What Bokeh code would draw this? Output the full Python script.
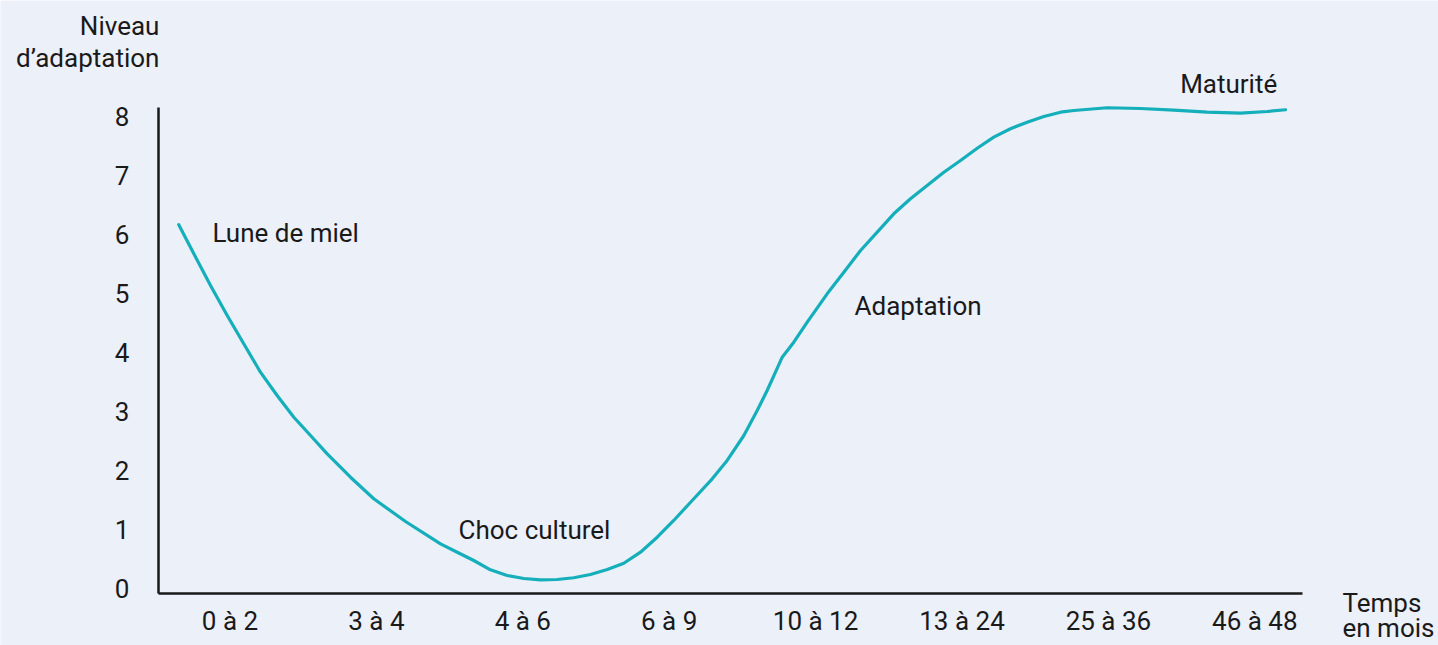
from bokeh.plotting import figure
from bokeh.models import Range1d, FixedTicker, Label
from bokeh.embed import file_html
from bokeh.resources import INLINE

# ---- data ----
categories = ["0 à 2", "3 à 4", "4 à 6", "6 à 9", "10 à 12", "13 à 24", "25 à 36", "46 à 48"]
y_ticks = [0, 1, 2, 3, 4, 5, 6, 7, 8]

curve_x = [-0.350, -0.247, -0.133, -0.019, 0.094, 0.208, 0.322, 0.436, 0.550, 0.664,
           0.823, 0.982, 1.199, 1.438, 1.552, 1.665, 1.779, 1.893, 2.007, 2.121,
           2.235, 2.348, 2.462, 2.577, 2.690, 2.804, 2.918, 3.031, 3.146, 3.294,
           3.396, 3.510, 3.601, 3.669, 3.726, 3.772, 3.851, 3.943, 4.079, 4.193,
           4.307, 4.421, 4.534, 4.648, 4.762, 4.876, 4.990, 5.104, 5.217, 5.331,
           5.445, 5.559, 5.673, 5.764, 5.992, 6.219, 6.447, 6.675, 6.902, 7.085,
           7.210]
curve_y = [6.171, 5.679, 5.141, 4.632, 4.152, 3.670, 3.275, 2.906, 2.596, 2.285,
           1.888, 1.522, 1.137, 0.758, 0.616, 0.475, 0.317, 0.221, 0.170, 0.148,
           0.153, 0.182, 0.238, 0.322, 0.429, 0.616, 0.870, 1.154, 1.464, 1.861,
           2.172, 2.596, 3.020, 3.359, 3.670, 3.924, 4.179, 4.518, 5.000, 5.367,
           5.735, 6.045, 6.357, 6.612, 6.838, 7.063, 7.262, 7.470, 7.657, 7.800,
           7.911, 8.008, 8.081, 8.110, 8.156, 8.144, 8.115, 8.081, 8.064, 8.093,
           8.122]

phase_labels = ["Lune de miel", "Choc culturel", "Adaptation", "Maturité"]
y_title = ["Niveau", "d’adaptation"]
x_title = ["Temps", "en mois"]

BG = "#ECF0F9"
INK = "#1a1a1a"
TEAL = "#14AFBA"
FONT = "Roboto"
FS = "26px"

X0, X1 = -0.489, 7.326   # extent of the drawn x axis
Y0, Y1 = -0.085, 8.16    # extent of the drawn y axis

p = figure(width=1438, height=645, output_backend="svg", toolbar_location=None,
           x_range=Range1d(-1.5676, 8.2548), y_range=Range1d(-0.967, 9.976),
           min_border=0)
p.background_fill_color = BG
p.border_fill_color = BG
p.outline_line_color = None
p.grid.visible = False

p.line(curve_x, curve_y, line_color=TEAL, line_width=3.2, line_cap="round", line_join="round")

for ax in (p.xaxis[0], p.yaxis[0]):
    ax.axis_line_color = INK
    ax.axis_line_width = 2.5
    ax.major_tick_line_color = None
    ax.minor_tick_line_color = None
    ax.major_tick_out = 0
    ax.major_tick_in = 0
    ax.minor_tick_out = 0
    ax.minor_tick_in = 0
    ax.major_label_text_font = FONT
    ax.major_label_text_font_size = FS
    ax.major_label_text_color = INK

xa = p.xaxis[0]
xa.fixed_location = Y0
xa.bounds = (X0, X1)
xa.ticker = FixedTicker(ticks=list(range(len(categories))))
xa.major_label_overrides = {i: c for i, c in enumerate(categories)}
xa.major_label_standoff = 12

ya = p.yaxis[0]
ya.fixed_location = X0
ya.bounds = (Y0, Y1)
ya.ticker = FixedTicker(ticks=y_ticks)
ya.major_label_standoff = 29

def add_label(x, y, text, align="left"):
    p.add_layout(Label(x=x, y=y, text=text, text_font=FONT, text_font_size=FS,
                       text_color=INK, text_align=align, text_baseline="alphabetic"))

add_label(-0.12, 6.035, phase_labels[0])
add_label(1.561, 0.995, phase_labels[1])
add_label(4.266, 4.795, phase_labels[2])
add_label(6.49, 8.565, phase_labels[3])

add_label(-0.482, 9.535, y_title[0], align="right")
add_label(-0.482, 9.005, y_title[1], align="right")
add_label(7.599, -0.239, x_title[0])
add_label(7.599, -0.663, x_title[1])

open("out.html", "w").write(file_html(p, INLINE))
